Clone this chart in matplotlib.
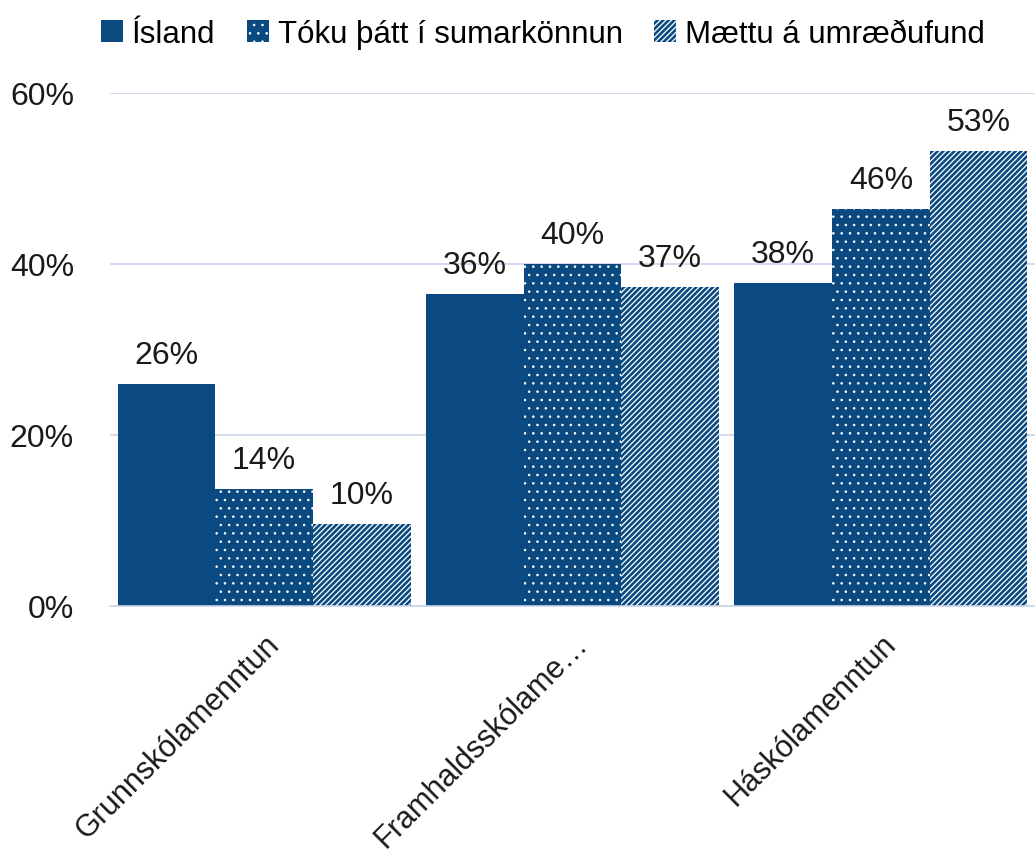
import matplotlib
matplotlib.use("Agg")
import matplotlib.pyplot as plt
import numpy as np
from matplotlib.ticker import PercentFormatter

categories = ["Grunnskólamenntun", "Framhaldsskólame…", "Háskólamenntun"]
series_names = ["Ísland", "Tóku þátt í sumarkönnun", "Mættu á umræðufund"]
island = [26.0, 36.5, 37.8]
toku = [13.7, 40.0, 46.4]
maettu = [9.6, 37.3, 53.2]
labels_island = ["26%", "36%", "38%"]
labels_toku = ["14%", "40%", "46%"]
labels_maettu = ["10%", "37%", "53%"]

BLUE = "#0b4a80"
GRID = "#c9d3ea"
plt.rcParams['font.family'] = ['Liberation Sans', 'DejaVu Sans']
DOT_LW = 0.6
STRIPE_LW = 1.9


def set_hlw(patches, lw):
    for p in patches:
        try:
            p.set_hatch_linewidth(lw)
        except AttributeError:
            pass


fig = plt.figure(figsize=(10.35, 8.54), dpi=100)
ax = fig.add_axes([110/1035, 1-607/854, 925/1035, (607-94)/854])

x = np.arange(len(categories))
w = 0.317
b1 = ax.bar(x - w, island, w, color=BLUE, linewidth=0, label=series_names[0])
plt.rcParams['hatch.linewidth'] = DOT_LW
b2 = ax.bar(x, toku, w, facecolor=BLUE, edgecolor="white", hatch="..", linewidth=0, label=series_names[1])
plt.rcParams['hatch.linewidth'] = STRIPE_LW
b3 = ax.bar(x + w, maettu, w, facecolor="white", edgecolor=BLUE, hatch="//////", linewidth=0, label=series_names[2])
set_hlw(b2, DOT_LW)
set_hlw(b3, STRIPE_LW)

for bars, labs in ((b1, labels_island), (b2, labels_toku), (b3, labels_maettu)):
    ax.bar_label(bars, labels=labs, padding=10, fontsize=23, color="#1a1a1a")

ax.set_xlim(-0.5, 2.5)
ax.set_ylim(0, 60)
ax.set_yticks([0, 20, 40, 60])
ax.yaxis.set_major_formatter(PercentFormatter(decimals=0))
ax.grid(axis="y", color=GRID, linewidth=1.2)
ax.set_axisbelow(True)
for s in ["top", "right", "left"]:
    ax.spines[s].set_visible(False)
ax.spines["bottom"].set_color(GRID)
ax.spines["bottom"].set_linewidth(1.2)
ax.tick_params(axis="y", length=0, labelsize=23, colors="#1a1a1a", pad=26)
ax.tick_params(axis="x", length=0, labelsize=22, colors="#1a1a1a", pad=16)
ax.set_xticks(x)
ax.set_xticklabels(categories, rotation=45, ha="right", rotation_mode="anchor")

leg = fig.legend(handles=[b1, b2, b3], loc="center", bbox_to_anchor=(543/1035, 1-35/854), ncol=3,
                 frameon=False, fontsize=22.5, handlelength=0.7, handleheight=0.7, handletextpad=0.3,
                 columnspacing=1.0)
lp = leg.get_patches()
set_hlw([lp[1]], DOT_LW)
set_hlw([lp[2]], STRIPE_LW)

fig.savefig("out.png", dpi=100)
